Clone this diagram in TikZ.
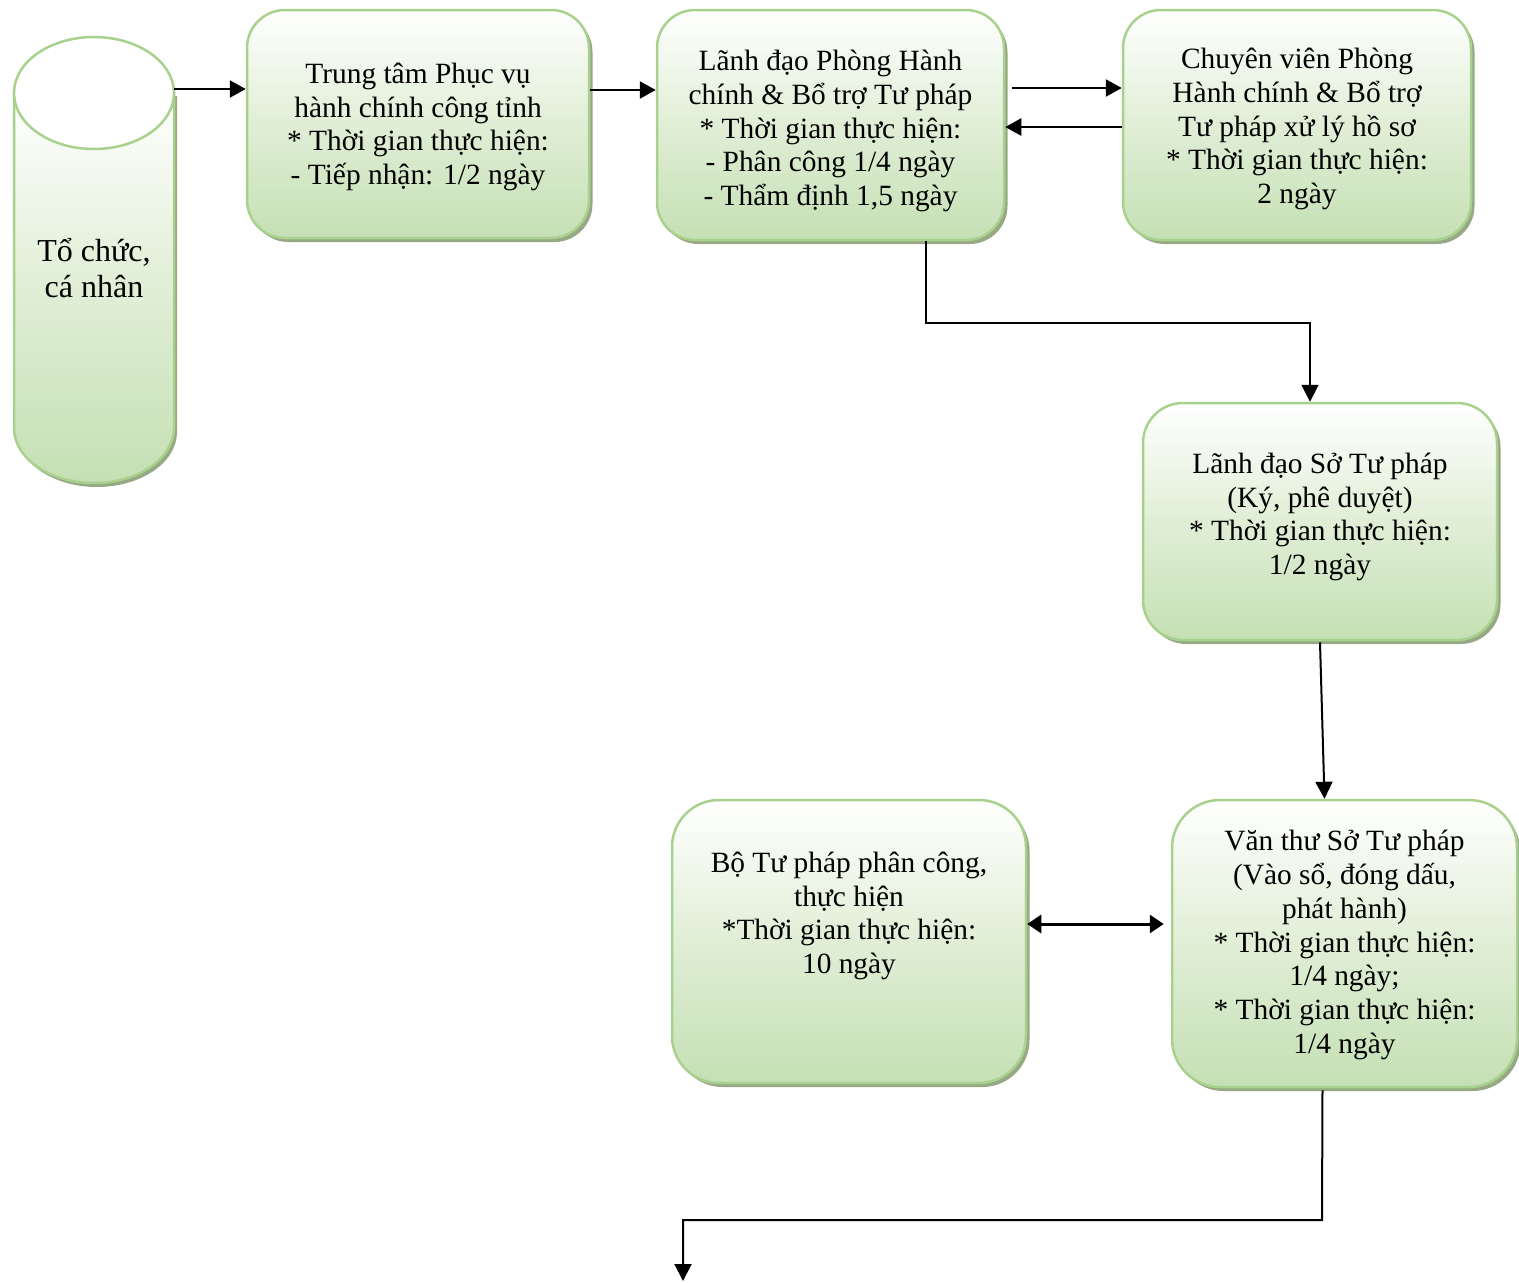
\documentclass[tikz,border=0pt]{standalone}
\usepackage{fontspec}
\setmainfont{Liberation Serif}
\usetikzlibrary{arrows.meta,shadows,calc}
\definecolor{gborder}{RGB}{169,209,142}
\definecolor{gfill}{RGB}{197,224,180}
\definecolor{gmid}{RGB}{224,238,214}
\definecolor{gshadow}{RGB}{150,168,132}
\begin{document}
\begin{tikzpicture}[x=1pt,y=-1pt,
  box/.style={draw=gborder, line width=2.5pt, top color=white, bottom color=gfill, middle color=gmid,
     drop shadow={shadow xshift=3.5pt, shadow yshift=-4pt, fill=gshadow, opacity=1}, inner sep=0pt},
  txt/.style={align=center, font=\fontsize{29.4}{33.8}\selectfont, inner sep=0pt},
  arr/.style={line width=2.4pt, -{Triangle[length=16pt,width=17pt]}},
  thin arr/.style={line width=2pt, -{Triangle[length=17pt,width=17pt]}},
  dbl/.style={line width=3pt, {Triangle[length=14pt,width=18pt]}-{Triangle[length=14pt,width=18pt]}}
]
\useasboundingbox (0,0) rectangle (1519,1283);

% cylinder
\fill[gshadow] (17,96) -- (17,432) arc[start angle=180,end angle=0,x radius=80,y radius=55] -- (177,96) -- cycle;
\path[top color=white, bottom color=gfill, middle color=gmid, draw=gborder, line width=2.5pt]
  (14,93) -- (14,428) arc[start angle=180,end angle=0,x radius=80,y radius=55] -- (174,93) -- cycle;
\draw[gborder, line width=2.5pt, fill=white] (94,93) ellipse[x radius=80, y radius=56];
\node[txt, font=\fontsize{32}{36}\selectfont] (org) at (94,268) {Tổ chức,\\cá nhân};
\coordinate (orgout) at (174,89);

% boxes
\node[box, minimum width=342pt, minimum height=228pt, rounded corners=38pt] (b1) at (418,124) {};
\node[box, minimum width=347pt, minimum height=230pt, rounded corners=38pt] (b2) at (830.5,125) {};
\node[box, minimum width=348pt, minimum height=230pt, rounded corners=38pt] (b3) at (1297,125) {};
\node[box, minimum width=354pt, minimum height=237pt, rounded corners=40pt] (b4) at (1320,521.5) {};
\node[box, minimum width=345pt, minimum height=287pt, rounded corners=48pt] (b5) at (1344.5,943.5) {};
\node[box, minimum width=354pt, minimum height=283pt, rounded corners=47pt] (b6) at (849,941.5) {};

\node[txt] (t1) at (418,127) {Trung tâm Phục vụ\\hành chính công tỉnh\\* Thời gian thực hiện:\\- Tiếp nhận: 1/2 ngày};
\node[txt] (t2) at (830.5,131) {Lãnh đạo Phòng Hành\\chính \& Bổ trợ Tư pháp\\* Thời gian thực hiện:\\- Phân công 1/4 ngày\\- Thẩm định 1,5 ngày};
\node[txt] (t3) at (1297,129) {Chuyên viên Phòng\\Hành chính \& Bổ trợ\\Tư pháp xử lý hồ sơ\\* Thời gian thực hiện:\\2 ngày};
\node[txt] (t4) at (1320,517) {Lãnh đạo Sở Tư pháp\\(Ký, phê duyệt)\\* Thời gian thực hiện:\\1/2 ngày};
\node[txt] (t5) at (1344.5,945) {Văn thư Sở Tư pháp\\(Vào sổ, đóng dấu,\\phát hành)\\* Thời gian thực hiện:\\1/4 ngày;\\* Thời gian thực hiện:\\1/4 ngày};
\node[txt] (t6) at (849,916) {Bộ Tư pháp phân công,\\thực hiện\\*Thời gian thực hiện:\\10 ngày};

% connectors
\draw[arr] (orgout) -- (orgout -| b1.west);
\draw[arr] ($(b1.east)+(0,-34)$) -- ($(b2.west)+(0,-35)$);
\draw[arr] ($(b2.east)+(7,-37)$) -- ($(b3.west)+(0,-37)$);
\draw[arr] ($(b3.west)+(0,2)$) -- ($(b2.east)+(0,2)$);
\coordinate (c1) at (926,323);
\draw[thin arr] (b2.south -| c1) -- (c1) -- (c1 -| 1310,0) -- (b4.north -| 1310,0);
\draw[thin arr] ($(b4.south)+(0,1)$) -- ($(b5.north)+(-20,0)$);
\draw[dbl] (b6.east |- 0,924) -- ($(b5.west |- 0,924)+(-7,0)$);
\coordinate (c2) at (1322,1220);
\coordinate (endpt) at (683,1281);
\draw[thin arr] ($(b5.south)+(-22,2)$) -- (c2) -- (c2 -| endpt) -- (endpt);
\end{tikzpicture}
\end{document}
